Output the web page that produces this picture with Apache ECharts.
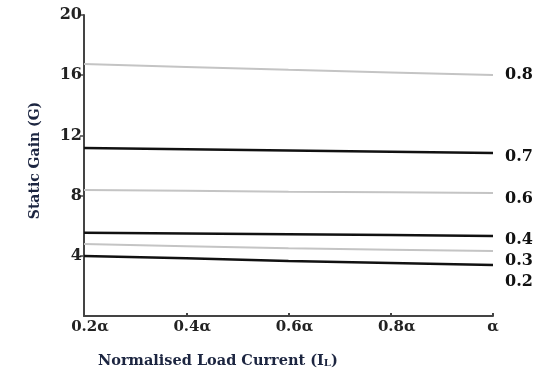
<!DOCTYPE html>
<html>
<head>
<meta charset="utf-8">
<script src="https://cdn.jsdelivr.net/npm/echarts@6/dist/echarts.min.js"></script>
<style>
  html, body { margin: 0; padding: 0; background: #fff; }
  #chart { width: 542px; height: 378px; }
</style>
</head>
<body>
<div id="chart"></div>
<script>
// load current positions (fractions of alpha)
const loadCurrent = [0.2, 0.4, 0.6, 0.8, 1.0]

// static gain per duty ratio
const gain08 = [16.74, 16.55, 16.36, 16.18, 16.01]
const gain07 = [11.16, 11.08, 11.0, 10.92, 10.83]
const gain06 = [8.37, 8.32, 8.26, 8.22, 8.17]
const gain04 = [5.53, 5.48, 5.43, 5.38, 5.32]
const gain03 = [4.78, 4.64, 4.5, 4.4, 4.32]
const gain02 = [3.99, 3.83, 3.66, 3.52, 3.39]

const dutyLabels = ['0.8', '0.7', '0.6', '0.4', '0.3', '0.2']

const serif = '"DejaVu Serif", "Liberation Serif", serif'
const chart = echarts.init(document.getElementById('chart'))

const mk = (name, values, color, width, dy) => ({
  name,
  type: 'line',
  data: loadCurrent.map((x, i) => [x, values[i]]),
  symbol: 'none',
  lineStyle: { color, width },
  endLabel: {
    show: true,
    formatter: name,
    color: '#111',
    fontFamily: serif,
    fontWeight: 'bold',
    fontSize: 16,
    distance: 12,
    offset: [0, dy],
  },
  silent: true,
  animation: false,
})

const tickFont = { color: '#222', fontFamily: serif, fontWeight: 'bold', fontSize: 15 }

chart.setOption({
  animation: false,
  grid: { left: 84, right: 49, top: 15, bottom: 62 },
  xAxis: {
    type: 'value',
    min: 0.2,
    max: 1,
    interval: 0.2,
    axisLine: { lineStyle: { color: '#444', width: 2 } },
    axisTick: { show: true, length: 3, inside: true, lineStyle: { color: '#444', width: 2 } },
    splitLine: { show: false },
    axisLabel: {
      ...tickFont,
      margin: 4,
      formatter: (v) => (Math.abs(v - 1) < 1e-6 ? '{e|α}' : '{n|' + v.toFixed(1) + 'α}'),
      rich: {
        n: { ...tickFont, padding: [0, 0, 0, 12] },
        e: { ...tickFont },
      },
    },
  },
  yAxis: {
    type: 'value',
    min: 0,
    max: 20,
    interval: 4,
    name: 'Static Gain (G)',
    nameLocation: 'middle',
    nameGap: 42,
    nameTextStyle: {
      color: '#1c2540',
      fontFamily: serif,
      fontWeight: 'bold',
      fontSize: 14,
      padding: [0, 0, 0, 10],
    },
    axisLine: { show: true, lineStyle: { color: '#444', width: 2 } },
    axisTick: { show: true, length: 4, lineStyle: { color: '#444', width: 1.5 } },
    splitLine: { show: false },
    axisLabel: {
      showMinLabel: false,
      color: '#222',
      fontFamily: serif,
      fontWeight: 'bold',
      fontSize: 16,
      margin: 2,
    },
  },
  graphic: [
    {
      type: 'text',
      left: 98,
      top: 354,
      style: {
        text: '{a|Normalised Load Current (I}{s|L}{a|)}',
        rich: {
          a: { fill: '#1c2540', font: 'bold 14.5px ' + serif },
          s: { fill: '#1c2540', font: 'bold 10px ' + serif, padding: [3, 0, 0, 0] },
        },
      },
    },
  ],
  series: [
    mk(dutyLabels[0], gain08, '#c4c4c4', 2, 0),
    mk(dutyLabels[1], gain07, '#111', 2.5, 4),
    mk(dutyLabels[2], gain06, '#c4c4c4', 2, 6),
    mk(dutyLabels[3], gain04, '#111', 2.5, 4),
    mk(dutyLabels[4], gain03, '#c4c4c4', 2, 10),
    mk(dutyLabels[5], gain02, '#111', 2.5, 17),
  ],
})
</script>
</body>
</html>
